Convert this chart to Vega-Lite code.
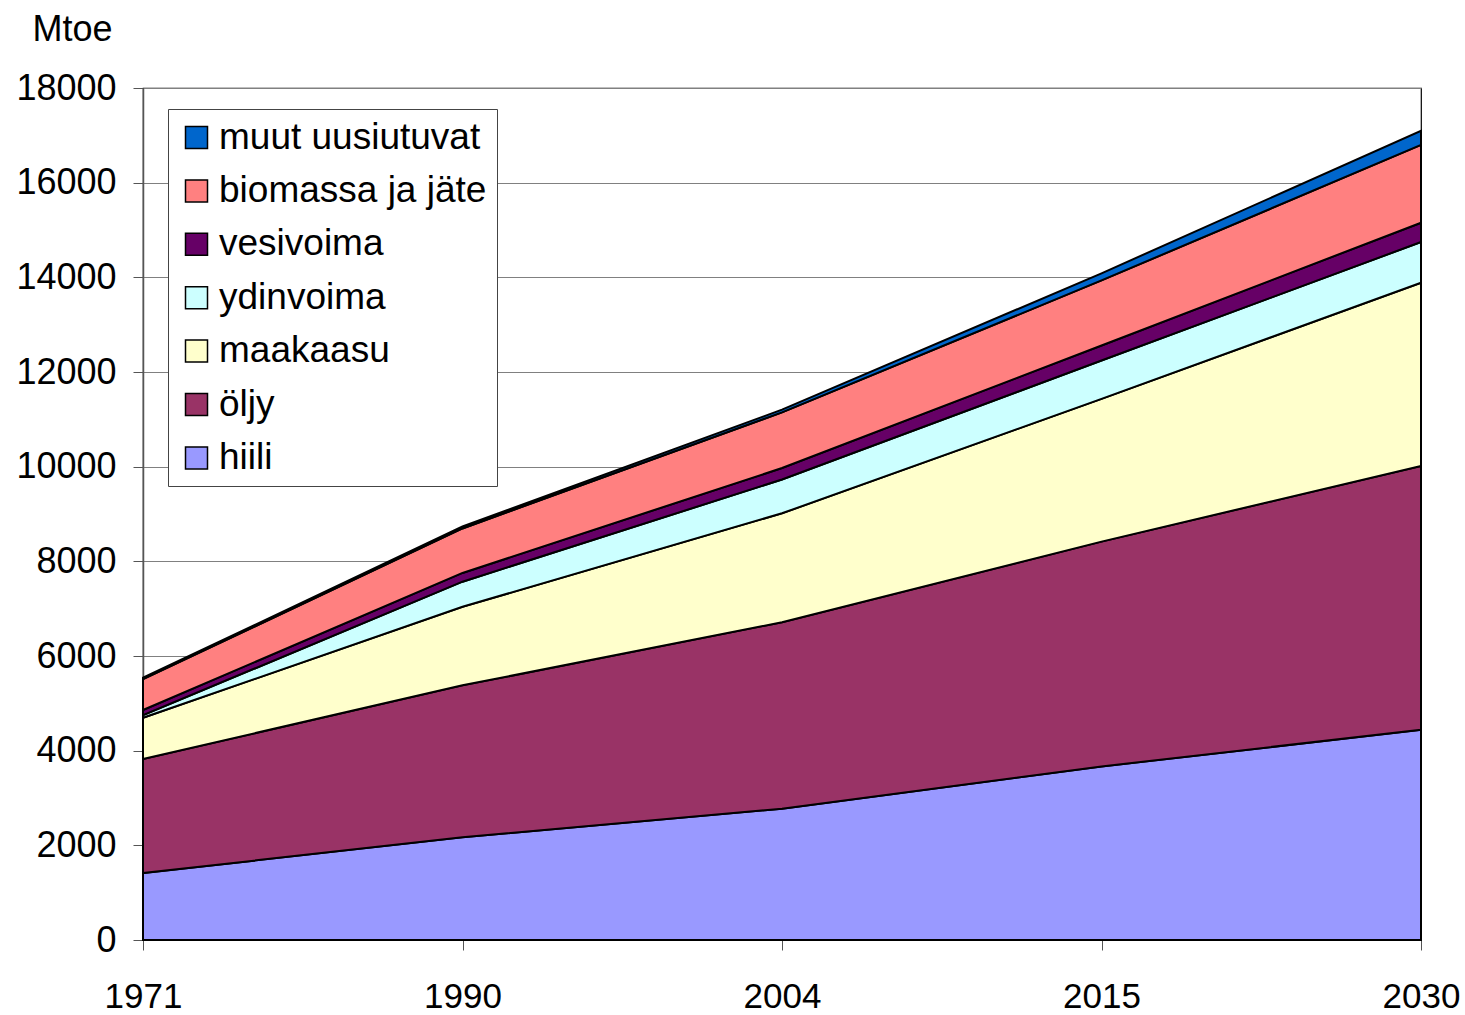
{
  "$schema": "https://vega.github.io/schema/vega-lite/v6.json",
  "width": 1278,
  "height": 852,
  "autosize": "none",
  "padding": {"left": 143, "top": 88, "right": 44, "bottom": 75},
  "background": "white",
  "config": {
    "font": "Liberation Sans",
    "view": {"stroke": "black", "strokeWidth": 1.2},
    "axis": {"labelFont": "Liberation Sans", "titleFont": "Liberation Sans", "labelColor": "black", "titleColor": "black"}
  },
  "data": {
    "values": [
      {"vuosi": "1971", "lahde": "hiili", "jarj": 1, "mtoe": 1415},
      {"vuosi": "1971", "lahde": "öljy", "jarj": 2, "mtoe": 2410},
      {"vuosi": "1971", "lahde": "maakaasu", "jarj": 3, "mtoe": 870},
      {"vuosi": "1971", "lahde": "ydinvoima", "jarj": 4, "mtoe": 55},
      {"vuosi": "1971", "lahde": "vesivoima", "jarj": 5, "mtoe": 110},
      {"vuosi": "1971", "lahde": "biomassa ja jäte", "jarj": 6, "mtoe": 650},
      {"vuosi": "1971", "lahde": "muut uusiutuvat", "jarj": 7, "mtoe": 30},
      {"vuosi": "1990", "lahde": "hiili", "jarj": 1, "mtoe": 2170},
      {"vuosi": "1990", "lahde": "öljy", "jarj": 2, "mtoe": 3210},
      {"vuosi": "1990", "lahde": "maakaasu", "jarj": 3, "mtoe": 1660},
      {"vuosi": "1990", "lahde": "ydinvoima", "jarj": 4, "mtoe": 530},
      {"vuosi": "1990", "lahde": "vesivoima", "jarj": 5, "mtoe": 185},
      {"vuosi": "1990", "lahde": "biomassa ja jäte", "jarj": 6, "mtoe": 940},
      {"vuosi": "1990", "lahde": "muut uusiutuvat", "jarj": 7, "mtoe": 40},
      {"vuosi": "2004", "lahde": "hiili", "jarj": 1, "mtoe": 2773},
      {"vuosi": "2004", "lahde": "öljy", "jarj": 2, "mtoe": 3940},
      {"vuosi": "2004", "lahde": "maakaasu", "jarj": 3, "mtoe": 2302},
      {"vuosi": "2004", "lahde": "ydinvoima", "jarj": 4, "mtoe": 714},
      {"vuosi": "2004", "lahde": "vesivoima", "jarj": 5, "mtoe": 242},
      {"vuosi": "2004", "lahde": "biomassa ja jäte", "jarj": 6, "mtoe": 1176},
      {"vuosi": "2004", "lahde": "muut uusiutuvat", "jarj": 7, "mtoe": 57},
      {"vuosi": "2015", "lahde": "hiili", "jarj": 1, "mtoe": 3666},
      {"vuosi": "2015", "lahde": "öljy", "jarj": 2, "mtoe": 4750},
      {"vuosi": "2015", "lahde": "maakaasu", "jarj": 3, "mtoe": 3017},
      {"vuosi": "2015", "lahde": "ydinvoima", "jarj": 4, "mtoe": 810},
      {"vuosi": "2015", "lahde": "vesivoima", "jarj": 5, "mtoe": 317},
      {"vuosi": "2015", "lahde": "biomassa ja jäte", "jarj": 6, "mtoe": 1375},
      {"vuosi": "2015", "lahde": "muut uusiutuvat", "jarj": 7, "mtoe": 150},
      {"vuosi": "2030", "lahde": "hiili", "jarj": 1, "mtoe": 4441},
      {"vuosi": "2030", "lahde": "öljy", "jarj": 2, "mtoe": 5575},
      {"vuosi": "2030", "lahde": "maakaasu", "jarj": 3, "mtoe": 3869},
      {"vuosi": "2030", "lahde": "ydinvoima", "jarj": 4, "mtoe": 861},
      {"vuosi": "2030", "lahde": "vesivoima", "jarj": 5, "mtoe": 408},
      {"vuosi": "2030", "lahde": "biomassa ja jäte", "jarj": 6, "mtoe": 1645},
      {"vuosi": "2030", "lahde": "muut uusiutuvat", "jarj": 7, "mtoe": 296}
    ]
  },
  "mark": {"type": "area", "stroke": "black", "strokeWidth": 2, "opacity": 1, "fillOpacity": 1},
  "encoding": {
    "x": {
      "field": "vuosi",
      "type": "ordinal",
      "scale": {"type": "point", "padding": 0},
      "axis": {
        "title": null,
        "labelAngle": 0,
        "labelFontSize": 35,
        "labelPadding": 29,
        "tickSize": 10,
        "tickColor": "#555555",
        "domain": false,
        "grid": false
      }
    },
    "y": {
      "field": "mtoe",
      "type": "quantitative",
      "stack": "zero",
      "scale": {"domain": [0, 18000], "nice": false},
      "axis": {
        "values": [0, 2000, 4000, 6000, 8000, 10000, 12000, 14000, 16000, 18000],
        "format": "d",
        "labelFontSize": 36,
        "labelPadding": 17,
        "tickSize": 10,
        "tickColor": "#555555",
        "domainColor": "#555555",
        "domainWidth": 1.5,
        "grid": true,
        "gridColor": "#808080",
        "gridWidth": 1,
        "title": "Mtoe",
        "titleAngle": 0,
        "titleAlign": "left",
        "titleBaseline": "alphabetic",
        "titleFontSize": 36,
        "titleFontWeight": "normal",
        "titleX": -111,
        "titleY": -48
      }
    },
    "color": {
      "field": "lahde",
      "type": "nominal",
      "scale": {
        "domain": ["muut uusiutuvat", "biomassa ja jäte", "vesivoima", "ydinvoima", "maakaasu", "öljy", "hiili"],
        "range": ["#0066CC", "#FF8080", "#660066", "#CCFFFF", "#FFFFCC", "#993366", "#9999FF"]
      },
      "legend": {
        "title": null,
        "orient": "none",
        "legendX": 25,
        "legendY": 21,
        "padding": 10,
        "fillColor": "white",
        "strokeColor": "#444444",
        "symbolType": "square",
        "symbolSize": 484,
        "symbolStrokeColor": "black",
        "symbolStrokeWidth": 1.5,
        "symbolOpacity": 1,
        "labelFontSize": 37,
        "labelColor": "black",
        "labelOffset": 4,
        "rowPadding": 15.4,
        "labelLimit": 400
      }
    },
    "order": {"field": "jarj", "type": "quantitative", "sort": "ascending"}
  }
}
